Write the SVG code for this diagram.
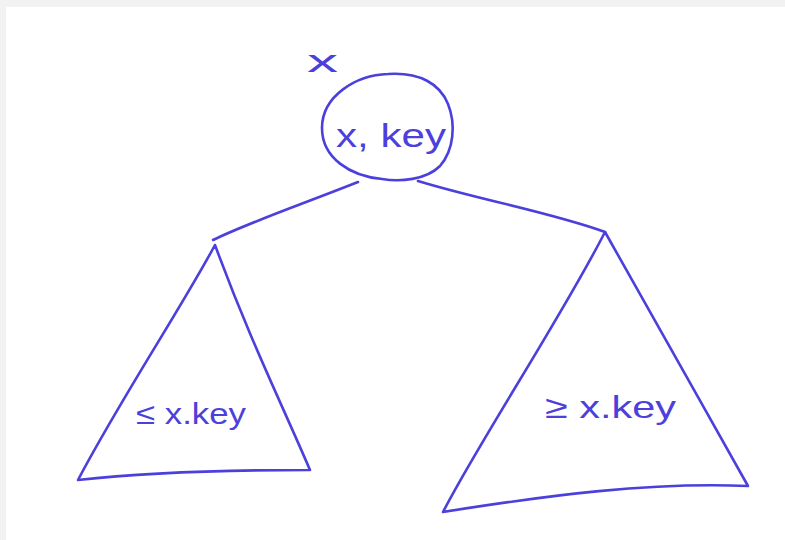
<svg xmlns="http://www.w3.org/2000/svg" width="785" height="540" viewBox="0 0 785 540">
<style>
.ink{fill:none;stroke:#4c40dc;stroke-width:2.6;stroke-linecap:round;stroke-linejoin:round}
.t{fill:#4c40dc;font-family:"Liberation Sans",Arial,sans-serif}
</style>
<rect x="0" y="0" width="785" height="540" fill="#f2f2f2"/>
<rect x="6" y="7" width="779" height="533" fill="#ffffff"/>
<g id="root">
<path class="ink" d="M388,74 C420,72 440,84 448,104 C456,124 454,150 440,166 C426,180 400,182 382,179 C350,176 322,158 322,128 C322,96 356,75 388,74 Z"/>
<text class="t" x="336" y="147" font-size="34" textLength="110" lengthAdjust="spacingAndGlyphs">x, key</text>
<text class="t" x="307" y="72" font-size="32" textLength="31" lengthAdjust="spacingAndGlyphs">x</text>
</g>
<g id="left-subtree">
<path class="ink" d="M215,245 C180,310 120,400 78,480 C150,472 240,470 310,470 C280,400 250,340 215,245 Z"/>
<text class="t" x="136" y="424" font-size="30" textLength="110" lengthAdjust="spacingAndGlyphs">≤ x.key</text>
</g>
<g id="right-subtree">
<path class="ink" d="M605,232 C560,320 480,440 443,512 C550,495 650,482 748,486 C700,400 660,330 605,232 Z"/>
<text class="t" x="545" y="418" font-size="32" textLength="131" lengthAdjust="spacingAndGlyphs">≥ x.key</text>
</g>
<g id="connectors">
<path class="ink" d="M358,182 C300,205 250,222 213,240"/>
<path class="ink" d="M418,181 C480,200 550,212 605,232"/>
</g>
</svg>
